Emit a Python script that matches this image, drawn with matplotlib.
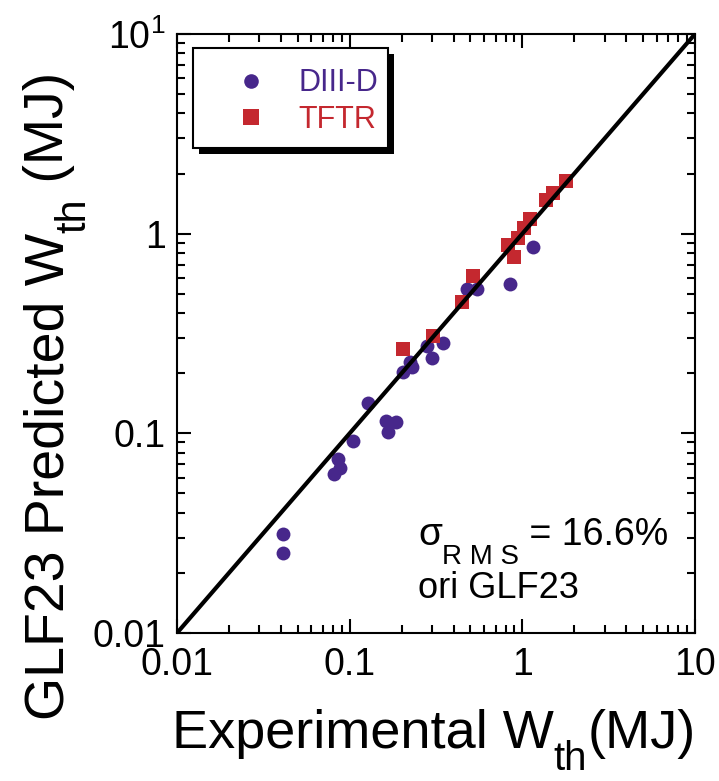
import matplotlib.pyplot as plt
from matplotlib.patches import Rectangle
from matplotlib.ticker import NullFormatter

plt.rcParams["font.family"] = ["Liberation Sans", "DejaVu Sans"]
plt.rcParams["mathtext.fontset"] = "custom"
plt.rcParams["mathtext.rm"] = "Liberation Sans"

# stored energy, experiment vs GLF23 prediction (MJ)
diiid_exp = [0.0411, 0.0411, 0.0811, 0.0855, 0.0879, 0.1045, 0.1276, 0.1622,
             0.1854, 0.1667, 0.2035, 0.2296, 0.2235, 0.2805, 0.2998, 0.3468,
             0.4777, 0.546, 0.848, 1.151]
diiid_pred = [0.0313, 0.0252, 0.0625, 0.0743, 0.067, 0.0915, 0.1419, 0.1153,
              0.114, 0.1016, 0.2028, 0.2148, 0.2275, 0.2735, 0.2384, 0.2833,
              0.528, 0.528, 0.559, 0.857]

tftr_exp = [0.2035, 0.3036, 0.447, 0.517, 0.826, 0.894, 0.944, 1.021, 1.107,
            1.37, 1.504, 1.788]
tftr_pred = [0.2644, 0.307, 0.454, 0.614, 0.877, 0.764, 0.951, 1.067, 1.183,
             1.473, 1.597, 1.834]

tick_values = [0.01, 0.1, 1, 10]
x_tick_labels = ["0.01", "0.1", "1", "10"]
y_tick_labels = ["0.01", "0.1", "1", r"$\mathregular{10^1}$"]

PURPLE = "#47278b"
RED = "#c4282f"

FIG_W, FIG_H = 719, 781

fig = plt.figure(figsize=(FIG_W / 100, FIG_H / 100), dpi=100)
ax = fig.add_axes([177 / FIG_W, 1 - 633 / FIG_H, 518 / FIG_W, 599 / FIG_H])
ax.set_xscale("log")
ax.set_yscale("log")
ax.set_xlim(0.01, 10)
ax.set_ylim(0.01, 10)

ax.plot(diiid_exp, diiid_pred, "o", ms=10, mew=0, color=PURPLE,
        label="DIII-D", zorder=2)
ax.plot(tftr_exp, tftr_pred, "s", ms=10.5, mew=0, color=RED,
        label="TFTR", zorder=2)
ax.plot([0.01, 10], [0.01, 10], color="black", lw=3, zorder=3)

ax.set_xticks(tick_values, x_tick_labels)
ax.set_yticks(tick_values, y_tick_labels)
ax.xaxis.set_minor_formatter(NullFormatter())
ax.yaxis.set_minor_formatter(NullFormatter())
ax.tick_params(which="both", direction="in", top=True, right=True,
               width=1.5, labelsize=27)
ax.tick_params(which="major", length=10)
ax.tick_params(which="minor", length=5.5)
ax.tick_params(axis="x", which="major", pad=10)
ax.tick_params(axis="y", which="major", pad=8)
for spine in ax.spines.values():
    spine.set_linewidth(1.5)

# legend box with a solid drop shadow
ax.add_patch(Rectangle((0.0426, 0.800), 0.376, 0.167, transform=ax.transAxes,
                       facecolor="black", edgecolor="none", zorder=4))
ax.add_patch(Rectangle((0.031, 0.810), 0.376, 0.167, transform=ax.transAxes,
                       facecolor="white", edgecolor="black", lw=1.5, zorder=5))
leg = ax.legend(loc="upper left", bbox_to_anchor=(0.114, 0.9426),
                borderaxespad=0, borderpad=0, frameon=False, fontsize=22,
                handlelength=0.95, handletextpad=1.08, labelspacing=0.22,
                numpoints=1, markerscale=1.05)
leg.set_zorder(6)
for text, color in zip(leg.get_texts(), [PURPLE, RED]):
    text.set_color(color)

renderer = fig.canvas.get_renderer()


def place_pieces(x_px, y_px, pieces, vertical=False):
    """Write text pieces one after another; drop shifts a piece below the baseline."""
    if vertical:
        cur = FIG_H - y_px
        for s, size, drop in pieces:
            t = fig.text((x_px + drop) / FIG_W, cur / FIG_H, s, fontsize=size,
                         rotation=90, rotation_mode="anchor",
                         ha="left", va="baseline")
            cur = t.get_window_extent(renderer).y1
    else:
        cur = x_px
        for s, size, drop in pieces:
            t = fig.text(cur / FIG_W, (FIG_H - y_px - drop) / FIG_H, s,
                         fontsize=size, ha="left", va="baseline")
            cur = t.get_window_extent(renderer).x1


place_pieces(172, 748, [("Experimental W", 39, 0), ("th", 29, 22),
                        ("(MJ)", 39, 0)])
place_pieces(63, 720, [("GLF23 Predicted W", 40, 0), ("th", 30, 22),
                       (" (MJ)", 40, 0)], vertical=True)
place_pieces(418, 545, [("\u03c3", 28, 0), ("R M S", 20, 19),
                        (" = 16.6%", 27, 0)])
place_pieces(418, 598, [("ori GLF23", 26, 0)])

fig.savefig("out.png", dpi=100)
